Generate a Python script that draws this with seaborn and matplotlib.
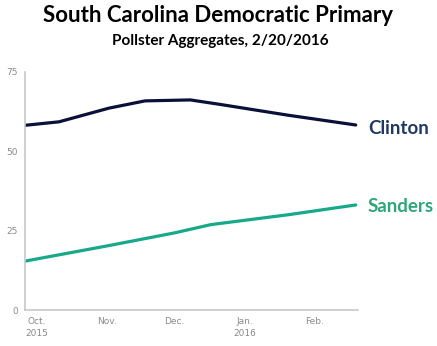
import matplotlib
matplotlib.use("Agg")
import matplotlib.pyplot as plt
import seaborn as sns
import pandas as pd

clinton_dates = ["2015-09-26", "2015-10-11", "2015-11-02", "2015-11-18", "2015-12-08",
                 "2015-12-21", "2016-01-20", "2016-02-19"]
clinton_vals = [58.2, 59.3, 63.6, 65.9, 66.2, 64.8, 61.4, 58.3]
sanders_dates = ["2015-09-26", "2015-11-02", "2015-12-01", "2015-12-17", "2016-01-20", "2016-02-19"]
sanders_vals = [15.4, 20.3, 24.3, 26.9, 30.0, 33.1]

tick_dates = ["2015-10-01", "2015-11-01", "2015-12-01", "2016-01-01", "2016-02-01"]
tick_labels = ["Oct.\n2015", "Nov.", "Dec.", "Jan.\n2016", "Feb."]
y_ticks = [0, 25, 50, 75]

title = "South Carolina Democratic Primary"
subtitle = "Pollster Aggregates, 2/20/2016"

df = pd.concat([
    pd.DataFrame({"date": pd.to_datetime(clinton_dates), "value": clinton_vals, "cand": "Clinton"}),
    pd.DataFrame({"date": pd.to_datetime(sanders_dates), "value": sanders_vals, "cand": "Sanders"}),
])

sns.set_style("white")
plt.rcParams["font.family"] = ["DejaVu Sans"]

fig = plt.figure(figsize=(4.37, 3.46), dpi=100)
ax = fig.add_axes([25/437, 36/346, 333/437, 238/346])

palette = {"Clinton": "#0b1038", "Sanders": "#17a98a"}
sns.lineplot(data=df, x="date", y="value", hue="cand", palette=palette, ax=ax,
             linewidth=2.3, legend=False)

ax.set_xlim(pd.Timestamp("2015-09-26"), pd.Timestamp("2016-02-20"))
ax.set_ylim(0, 75)
ax.set_xlabel("")
ax.set_ylabel("")
ax.set_yticks(y_ticks)
ax.set_yticklabels([str(v) for v in y_ticks])
ax.set_xticks(pd.to_datetime(tick_dates))
ax.set_xticklabels(tick_labels, linespacing=1.5)
ax.tick_params(axis="both", labelsize=6.5, labelcolor="#8a8a8a", color="#9ec3e6",
               length=3, width=0.8, direction="out", pad=2)
for s in ["top", "right"]:
    ax.spines[s].set_visible(False)
for s in ["left", "bottom"]:
    ax.spines[s].set_color("#c8c8c8")
    ax.spines[s].set_linewidth(1.2)

fig.text(218/437, 331/346, title, ha="center", va="center", fontsize=16,
         fontweight="bold", family="Lato", color="#000000")
fig.text(220/437, 305/346, subtitle, ha="center", va="center", fontsize=11,
         fontweight="bold", family="Lato", color="#000000")

fig.text(368/437, (346-128)/346, "Clinton", ha="left", va="center", fontsize=13.5,
         fontweight="bold", family="Lato", color="#1f3864")
fig.text(368/437, (346-206)/346, "Sanders", ha="left", va="center", fontsize=13.5,
         fontweight="bold", family="Lato", color="#2ea67a")

fig.savefig("out.png", dpi=100)
